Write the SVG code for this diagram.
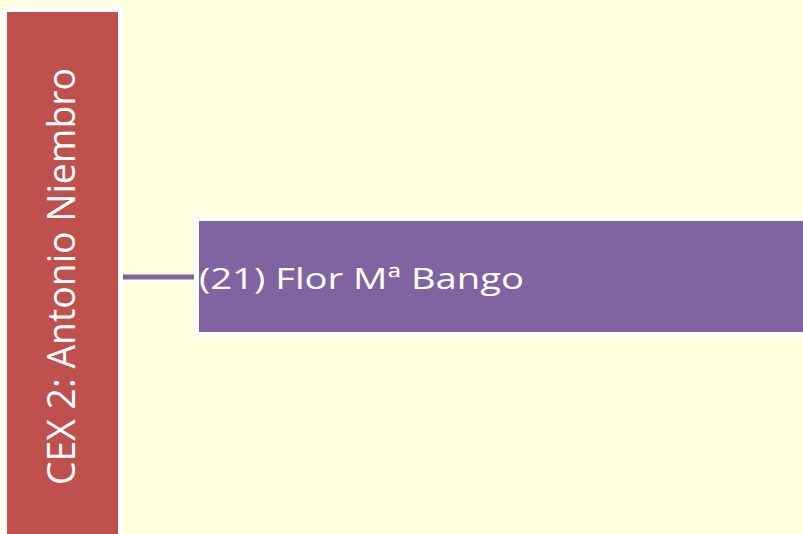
<svg xmlns="http://www.w3.org/2000/svg" width="803" height="534" viewBox="0 0 803 534">
<style>
.lbl{fill:#FFFFFF;font-family:"Open Sans","Liberation Sans",sans-serif;}
</style>
<rect x="0" y="0" width="803" height="534" fill="#FFFFE0"/>
<g id="connectors">
<line x1="122" y1="277" x2="196" y2="277" stroke="#8064A2" stroke-width="5"/>
</g>
<g id="node-cex">
<rect x="4.5" y="9.5" width="116" height="530" fill="#C0504D" stroke="#FFFFFF" stroke-width="5"/>
<text class="lbl" transform="translate(75,276.5) rotate(-90)" x="0" y="0" text-anchor="middle" font-size="38" textLength="417" lengthAdjust="spacingAndGlyphs">CEX 2: Antonio Niembro</text>
</g>
<g id="node-flor">
<rect x="196.5" y="218.5" width="612" height="116" fill="#8064A2" stroke="#FFFFFF" stroke-width="5"/>
<text class="lbl" x="199" y="289" font-size="30" textLength="325" lengthAdjust="spacingAndGlyphs">(21) Flor Mª Bango</text>
</g>
</svg>
